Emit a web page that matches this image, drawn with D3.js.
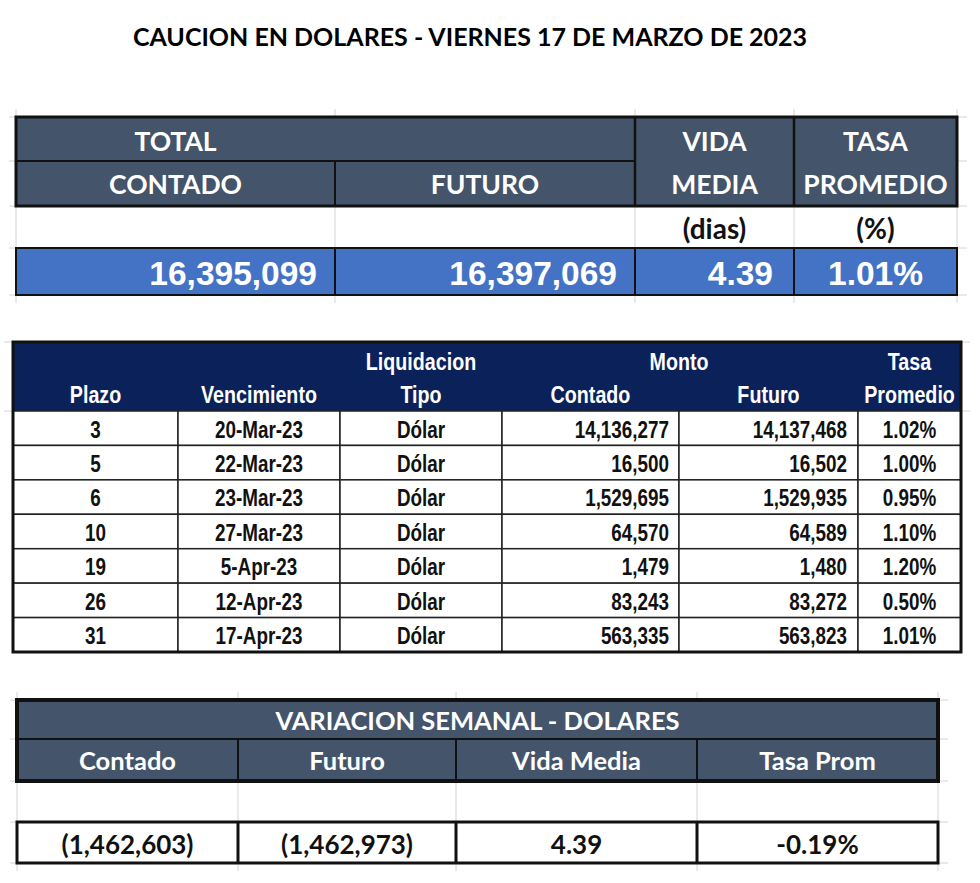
<!DOCTYPE html>
<html>
<head>
<meta charset="utf-8">
<script src="https://cdn.jsdelivr.net/npm/d3@7"></script>
<style>
  body { margin: 0; background: #fff; }
  svg { display: block; }
</style>
</head>
<body>
<script>
    //Global variables
        const width = 980;
        const height = 883;
        const calibri = "Lato, 'Open Sans', sans-serif";
        const arial = "'Liberation Sans', Arial, sans-serif";
        const narrowScale = 0.82;   // Arial Narrow look: Liberation Sans squeezed
        const slate = "#44546A";
        const navy = "#0B2159";
        const blue = "#4472C4";
        const grid = "#d4d4d4";

    //Data
        const titulo = "CAUCION EN DOLARES - VIERNES 17 DE MARZO DE 2023";

        const resumenCols = ["contado", "futuro", "vida", "tasa"];
        const resumenHeader = ["CONTADO", "FUTURO", "VIDA MEDIA", "TASA PROMEDIO"];
        const resumenUnidades = ["", "", "(dias)", "(%)"];
        const resumenValores = [16395099, 16397069, 4.39, 1.01];

        const plazos = [3, 5, 6, 10, 19, 26, 31];
        const vencimientos = ["20-Mar-23", "22-Mar-23", "23-Mar-23", "27-Mar-23", "5-Apr-23", "12-Apr-23", "17-Apr-23"];
        const tipos = ["Dólar", "Dólar", "Dólar", "Dólar", "Dólar", "Dólar", "Dólar"];
        const montoContado = [14136277, 16500, 1529695, 64570, 1479, 83243, 563335];
        const montoFuturo = [14137468, 16502, 1529935, 64589, 1480, 83272, 563823];
        const tasas = [1.02, 1.00, 0.95, 1.10, 1.20, 0.50, 1.01];

        const variacionTitulo = "VARIACION SEMANAL - DOLARES";
        const variacionHeader = ["Contado", "Futuro", "Vida Media", "Tasa Prom"];
        const variacionValores = [-1462603, -1462973, 4.39, -0.19];

    //Formats
        const fmtInt = d3.format(",");
        const fmtDec = d => d3.format(".2f")(d).replace("−", "-");
        const fmtPct = d => fmtDec(d) + "%";
        const fmtPar = d => d < 0 ? "(" + fmtInt(-d) + ")" : fmtInt(d);

    //SVG element
        const svg = d3.select("body")
                    .append("svg")
                    .attr("width", width)
                    .attr("height", height);

        svg.append("rect").attr("width", width).attr("height", height).attr("fill", "#fff");

        svg.append("text")
            .attr("x", 470)
            .attr("y", 46)
            .attr("text-anchor", "middle")
            .style("font-family", calibri)
            .style("font-weight", 700)
            .style("font-size", "25px")
            .attr("fill", "#000")
            .text(titulo);

        //helper: column scale from edges
        function colScale(keys, edges) {
            const x = d3.scaleOrdinal().domain(keys).range(edges.slice(0, -1));
            const w = d3.scaleOrdinal().domain(keys).range(edges.slice(1).map((e, i) => e - edges[i]));
            return { x: x, w: w, mid: k => x(k) + w(k) / 2, end: k => x(k) + w(k) };
        }

        function line(g, x1, y1, x2, y2, stroke, sw) {
            g.append("line").attr("x1", x1).attr("y1", y1).attr("x2", x2).attr("y2", y2)
                .attr("stroke", stroke).attr("stroke-width", sw);
        }

        function label(g, x, y, txt, anchor, font, size, color, sx) {
            g.append("text")
                .attr("transform", "translate(" + x + "," + y + ") scale(" + (sx || 1) + ",1)")
                .attr("dy", "0.36em")
                .attr("text-anchor", anchor)
                .style("font-family", font)
                .style("font-weight", 700)
                .style("font-size", size + "px")
                .attr("fill", color)
                .text(txt);
        }

        function gridlines(g, xs, ys) {
            const x0 = d3.min(xs), x1 = d3.max(xs), y0 = d3.min(ys), y1 = d3.max(ys);
            xs.forEach(x => line(g, x, y0 - 8, x, y1 + 8, grid, 1));
            ys.forEach(y => line(g, x0 - 7, y, x1 + 10, y, grid, 1));
        }

    //Table 1 - totales
        const t1 = svg.append("g");
        const c1 = colScale(resumenCols, [16, 335, 635, 794, 957]);
        const rowY1 = d3.scaleOrdinal().domain(["total", "header", "unidad", "valor"]).range([117, 161, 206, 248]);
        const rowH1 = d3.scaleOrdinal().domain(rowY1.domain()).range([44, 45, 42, 47]);
        const left1 = c1.x("contado"), right1 = c1.end("tasa");

        gridlines(t1, [16, 335, 635, 794, 957], [117, 161, 206, 248, 295]);

        t1.append("rect").attr("x", left1).attr("y", rowY1("total"))
            .attr("width", right1 - left1).attr("height", rowH1("total") + rowH1("header"))
            .attr("fill", slate);
        t1.append("rect").attr("x", left1).attr("y", rowY1("valor"))
            .attr("width", right1 - left1).attr("height", rowH1("valor"))
            .attr("fill", blue).attr("stroke", "#111").attr("stroke-width", 2);

        line(t1, left1, rowY1("header"), c1.x("vida"), rowY1("header"), "#111", 2);
        line(t1, c1.x("futuro"), rowY1("header"), c1.x("futuro"), rowY1("unidad"), "#111", 2);
        ["vida", "tasa"].forEach(k => line(t1, c1.x(k), rowY1("total"), c1.x(k), rowY1("unidad"), "#111", 2.5));
        ["futuro", "vida", "tasa"].forEach(k => line(t1, c1.x(k), rowY1("valor"), c1.x(k), rowY1("valor") + rowH1("valor"), "#111", 2));
        t1.append("rect").attr("x", left1).attr("y", rowY1("total"))
            .attr("width", right1 - left1).attr("height", rowH1("total") + rowH1("header"))
            .attr("fill", "none").attr("stroke", "#111").attr("stroke-width", 3);

        label(t1, c1.mid("contado"), rowY1("total") + rowH1("total") / 2 + 2, "TOTAL", "middle", calibri, 26.5, "#fff");
        resumenHeader.forEach((h, i) => {
            const k = resumenCols[i];
            const parts = h.split(" ");
            if (parts.length === 1) {
                label(t1, c1.mid(k), rowY1("header") + rowH1("header") / 2 + 1, h, "middle", calibri, 26.5, "#fff");
            } else {
                label(t1, c1.mid(k), rowY1("total") + rowH1("total") / 2 + 2, parts[0], "middle", calibri, 26.5, "#fff");
                label(t1, c1.mid(k), rowY1("header") + rowH1("header") / 2 + 1, parts[1], "middle", calibri, 26.5, "#fff");
            }
            if (resumenUnidades[i]) {
                label(t1, c1.mid(k), rowY1("unidad") + rowH1("unidad") / 2 + 2, resumenUnidades[i], "middle", calibri, 28, "#111");
            }
        });
        resumenValores.forEach((v, i) => {
            const k = resumenCols[i];
            const yv = rowY1("valor") + rowH1("valor") / 2 + 1;
            if (k === "tasa") label(t1, c1.mid(k), yv, fmtPct(v), "middle", arial, 33.5, "#fff");
            else if (k === "vida") label(t1, c1.end(k) - 21, yv, fmtDec(v), "end", arial, 33.5, "#fff");
            else label(t1, c1.end(k) - 18, yv, fmtInt(v), "end", arial, 33.5, "#fff");
        });

    //Table 2 - detalle por plazo
        const t2 = svg.append("g");
        const cols2 = ["plazo", "venc", "tipo", "contado", "futuro", "tasa"];
        const c2 = colScale(cols2, [13, 178, 340, 502, 679, 858, 961]);
        const top2 = 342, head2 = 411, bottom2 = 652;
        const y2 = d3.scaleBand().domain(d3.range(plazos.length)).range([head2, bottom2]);

        [342, 411].forEach(y => { line(t2, 4, y, 13, y, grid, 1); line(t2, 961, y, 970, y, grid, 1); });

        t2.append("rect").attr("x", c2.x("plazo")).attr("y", top2)
            .attr("width", c2.end("tasa") - c2.x("plazo")).attr("height", head2 - top2)
            .attr("fill", navy);

        const rows = t2.selectAll(".fila")
            .data(plazos)
            .enter()
            .append("g")
            .attr("class", "fila");

        rows.each(function(d, i) {
            const g = d3.select(this);
            cols2.forEach(k => {
                g.append("rect").attr("x", c2.x(k)).attr("y", y2(i))
                    .attr("width", c2.w(k)).attr("height", y2.bandwidth())
                    .attr("fill", "#fff").attr("stroke", "#222").attr("stroke-width", 1.5);
            });
            const ym = y2(i) + y2.bandwidth() / 2 + 1;
            label(g, c2.mid("plazo"), ym, String(plazos[i]), "middle", arial, 23, "#111", narrowScale);
            label(g, c2.mid("venc"), ym, vencimientos[i], "middle", arial, 23, "#111", narrowScale);
            label(g, c2.mid("tipo"), ym, tipos[i], "middle", arial, 23, "#111", narrowScale);
            label(g, c2.end("contado") - 10, ym, fmtInt(montoContado[i]), "end", arial, 23, "#111", narrowScale);
            label(g, c2.end("futuro") - 11, ym, fmtInt(montoFuturo[i]), "end", arial, 23, "#111", narrowScale);
            label(g, c2.mid("tasa"), ym, fmtPct(tasas[i]), "middle", arial, 23, "#111", narrowScale);
        });

        t2.append("rect").attr("x", c2.x("plazo")).attr("y", top2)
            .attr("width", c2.end("tasa") - c2.x("plazo")).attr("height", bottom2 - top2)
            .attr("fill", "none").attr("stroke", "#111").attr("stroke-width", 3);

        const h1 = 361, h2 = 394;
        label(t2, c2.mid("tipo"), h1, "Liquidacion", "middle", arial, 24, "#fff", narrowScale);
        label(t2, c2.end("contado"), h1, "Monto", "middle", arial, 24, "#fff", narrowScale);
        label(t2, c2.mid("tasa"), h1, "Tasa", "middle", arial, 24, "#fff", narrowScale);
        label(t2, c2.mid("plazo"), h2, "Plazo", "middle", arial, 24, "#fff", narrowScale);
        label(t2, c2.mid("venc"), h2, "Vencimiento", "middle", arial, 24, "#fff", narrowScale);
        label(t2, c2.mid("tipo"), h2, "Tipo", "middle", arial, 24, "#fff", narrowScale);
        label(t2, c2.mid("contado"), h2, "Contado", "middle", arial, 24, "#fff", narrowScale);
        label(t2, c2.mid("futuro"), h2, "Futuro", "middle", arial, 24, "#fff", narrowScale);
        label(t2, c2.mid("tasa"), h2, "Promedio", "middle", arial, 24, "#fff", narrowScale);

    //Table 3 - variacion semanal
        const t3 = svg.append("g");
        const cols3 = ["contado", "futuro", "vida", "tasa"];
        const c3 = colScale(cols3, [17, 238, 456, 697, 938]);
        const rowY3 = d3.scaleOrdinal().domain(["titulo", "header", "blanco", "valor"]).range([700, 739, 781, 822]);
        const rowH3 = d3.scaleOrdinal().domain(rowY3.domain()).range([39, 42, 41, 41]);
        const left3 = c3.x("contado"), right3 = c3.end("tasa");

        gridlines(t3, [17, 238, 456, 697, 938], [700, 739, 781, 822, 863]);

        t3.append("rect").attr("x", left3).attr("y", rowY3("titulo"))
            .attr("width", right3 - left3).attr("height", rowH3("titulo") + rowH3("header"))
            .attr("fill", slate);
        line(t3, left3, rowY3("header"), right3, rowY3("header"), "#111", 2);
        cols3.slice(1).forEach(k => line(t3, c3.x(k), rowY3("header"), c3.x(k), rowY3("blanco"), "#111", 2));
        t3.append("rect").attr("x", left3).attr("y", rowY3("titulo"))
            .attr("width", right3 - left3).attr("height", rowH3("titulo") + rowH3("header"))
            .attr("fill", "none").attr("stroke", "#111").attr("stroke-width", 4);

        t3.append("rect").attr("x", left3).attr("y", rowY3("valor"))
            .attr("width", right3 - left3).attr("height", rowH3("valor"))
            .attr("fill", "#fff").attr("stroke", "#111").attr("stroke-width", 3);
        cols3.slice(1).forEach(k => line(t3, c3.x(k), rowY3("valor"), c3.x(k), rowY3("valor") + rowH3("valor"), "#111", 3));

        label(t3, (left3 + right3) / 2, rowY3("titulo") + rowH3("titulo") / 2 + 1, variacionTitulo, "middle", calibri, 25.5, "#fff");
        variacionHeader.forEach((h, i) => {
            label(t3, c3.mid(cols3[i]), rowY3("header") + rowH3("header") / 2 + 1, h, "middle", calibri, 25.5, "#fff");
        });
        variacionValores.forEach((v, i) => {
            const k = cols3[i];
            const txt = k === "tasa" ? fmtPct(v) : (k === "vida" ? fmtDec(v) : fmtPar(v));
            label(t3, c3.mid(k), rowY3("valor") + rowH3("valor") / 2 + 2, txt, "middle", calibri, 26, "#111");
        });
</script>
</body>
</html>
